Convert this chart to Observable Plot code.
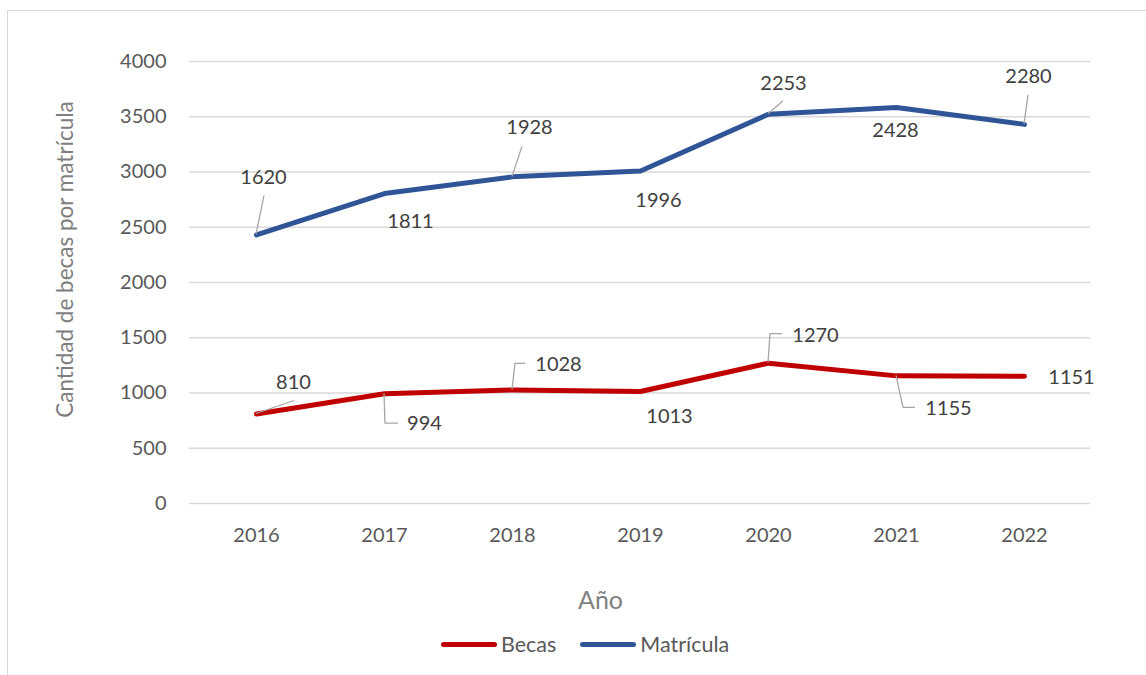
<!DOCTYPE html>
<html>
<head>
<meta charset="utf-8">
<script src="https://cdn.jsdelivr.net/npm/d3@7"></script>
<script src="https://cdn.jsdelivr.net/npm/@observablehq/plot@0.6"></script>
<style>
  html, body { margin: 0; padding: 0; background: #fff; overflow: hidden; width: 1146px; height: 675px; }
  #wrap { position: relative; width: 1146px; height: 675px; font-family: Lato, sans-serif; }
  #frame { position: absolute; left: 7px; top: 10px; width: 1160px; height: 700px; border: 1.5px solid #d9d9d9; box-sizing: border-box; }
  #chart { position: absolute; left: 0; top: 0; }
  #legend { position: absolute; left: 441px; top: 632px; height: 24px; display: flex; align-items: center; font-size: 21.5px; color: #595959; }
  .sw { display: inline-block; height: 5px; border-radius: 3px; }
</style>
</head>
<body>
<div id="wrap">
  <div id="frame"></div>
  <div id="chart"></div>
  <div id="legend"></div>
</div>
<script>
// ---- data ----
const years = ["2016", "2017", "2018", "2019", "2020", "2021", "2022"];
const becas = [810, 994, 1028, 1013, 1270, 1155, 1151];
const matricula = [1620, 1811, 1928, 1996, 2253, 2428, 2280];
const seriesNames = ["Becas", "Matrícula"];
const seriesColors = ["#c00000", "#2f5597"];
const yTicks = [0, 500, 1000, 1500, 2000, 2500, 3000, 3500, 4000];
const xTitle = "Año";
const yTitle = "Cantidad de becas por matrícula";

// ---- label placement (pixel offsets, style only) ----
const labelOffsets = {
  "Becas": [[37, -31], [40, 30], [46, -25], [29, 25], [47, -28], [52, 33], [47, 1]],
  "Matrícula": [[7, -57], [26, 28], [17, -49], [18, 30], [15, -31], [-1, 23], [4, -48]]
};
const leaderPaths = {
  "Becas": [[[0, 0], [38, -13]], [[0, 0], [1, 30], [14, 30]], [[0, 0], [3, -26], [13, -26]], null,
            [[0, 0], [2, -29], [14, -29]], [[0, 0], [7, 32], [19, 32]], null],
  "Matrícula": [[[0, 0], [8, -39]], null, [[0, 0], [10, -30]], null, [[0, 0], [15, -13]], null, [[0, 0], [4, -29]]]
};

// ---- table for Plot ----
const seriesValues = [becas, matricula];
const rows = [];
seriesNames.forEach((s, si) => {
  years.forEach((yr, i) => rows.push({series: s, year: yr, value: seriesValues[si][i], i}));
});

const stackOpts = {x: "year", y: "value", z: "series"};

const leaders = (index, scales) => {
  const g = d3.create("svg:g");
  seriesNames.forEach((s, si) => {
    years.forEach((yr, i) => {
      const path = leaderPaths[s][i];
      if (!path) return;
      let top = 0;
      for (let k = 0; k <= si; k++) top += seriesValues[k][i];
      const px = scales.x(yr), py = scales.y(top);
      g.append("path")
        .attr("d", d3.line()(path.map(([a, b]) => [px + a, py + b])))
        .attr("fill", "none")
        .attr("stroke", "#a6a6a6")
        .attr("stroke-width", 1.3);
    });
  });
  return g.node();
};

const labelMarks = rows.map((r, k) =>
  Plot.text(rows, Plot.filter((d, j) => j === k, Plot.stackY2({
    ...stackOpts,
    text: d => String(d.value),
    dx: labelOffsets[r.series][r.i][0],
    dy: labelOffsets[r.series][r.i][1],
    fontSize: 20,
    fill: "#404040"
  })))
);

const chart = Plot.plot({
  width: 1146,
  height: 675,
  marginLeft: 189,
  marginRight: 56,
  marginTop: 61,
  marginBottom: 172,
  x: {type: "point", domain: years, padding: 0.5, label: null},
  y: {domain: [0, 4000], label: null},
  color: {domain: seriesNames, range: seriesColors},
  style: {fontFamily: "Lato, sans-serif", fontSize: "20px", color: "#595959", background: "transparent", overflow: "visible"},
  marks: [
    Plot.gridY(yTicks, {stroke: "#d9d9d9", strokeOpacity: 1, strokeWidth: 1.3}),
    Plot.axisY(yTicks, {tickSize: 0, tickPadding: 23, tickFormat: d => String(d), fontSize: 20, fill: "#595959", label: null}),
    Plot.axisX({tickSize: 0, tickPadding: 24, fontSize: 20, fill: "#595959", label: null}),
    Plot.lineY(rows, Plot.stackY2({...stackOpts, stroke: "series", strokeWidth: 5, strokeLinecap: "round", strokeLinejoin: "round"})),
    leaders,
    ...labelMarks,
    Plot.text([xTitle], {text: d => d, frameAnchor: "bottom", textAnchor: "middle", lineAnchor: "middle", dx: -39.5, dy: 97, fontSize: 25, fill: "#7f7f7f"}),
    Plot.text([yTitle], {text: d => d, frameAnchor: "left", textAnchor: "middle", lineAnchor: "middle", rotate: -90, dx: -124, dy: -23, fontSize: 22.5, fill: "#7f7f7f"})
  ]
});
document.getElementById("chart").appendChild(chart);

// ---- legend ----
const legend = d3.select("#legend");
seriesNames.forEach((s, si) => {
  legend.append("span").attr("class", "sw")
    .style("width", "56px").style("background", seriesColors[si])
    .style("margin-left", si === 0 ? "0px" : "24px").style("margin-right", "4px");
  legend.append("span").text(s);
});
</script>
</body>
</html>
